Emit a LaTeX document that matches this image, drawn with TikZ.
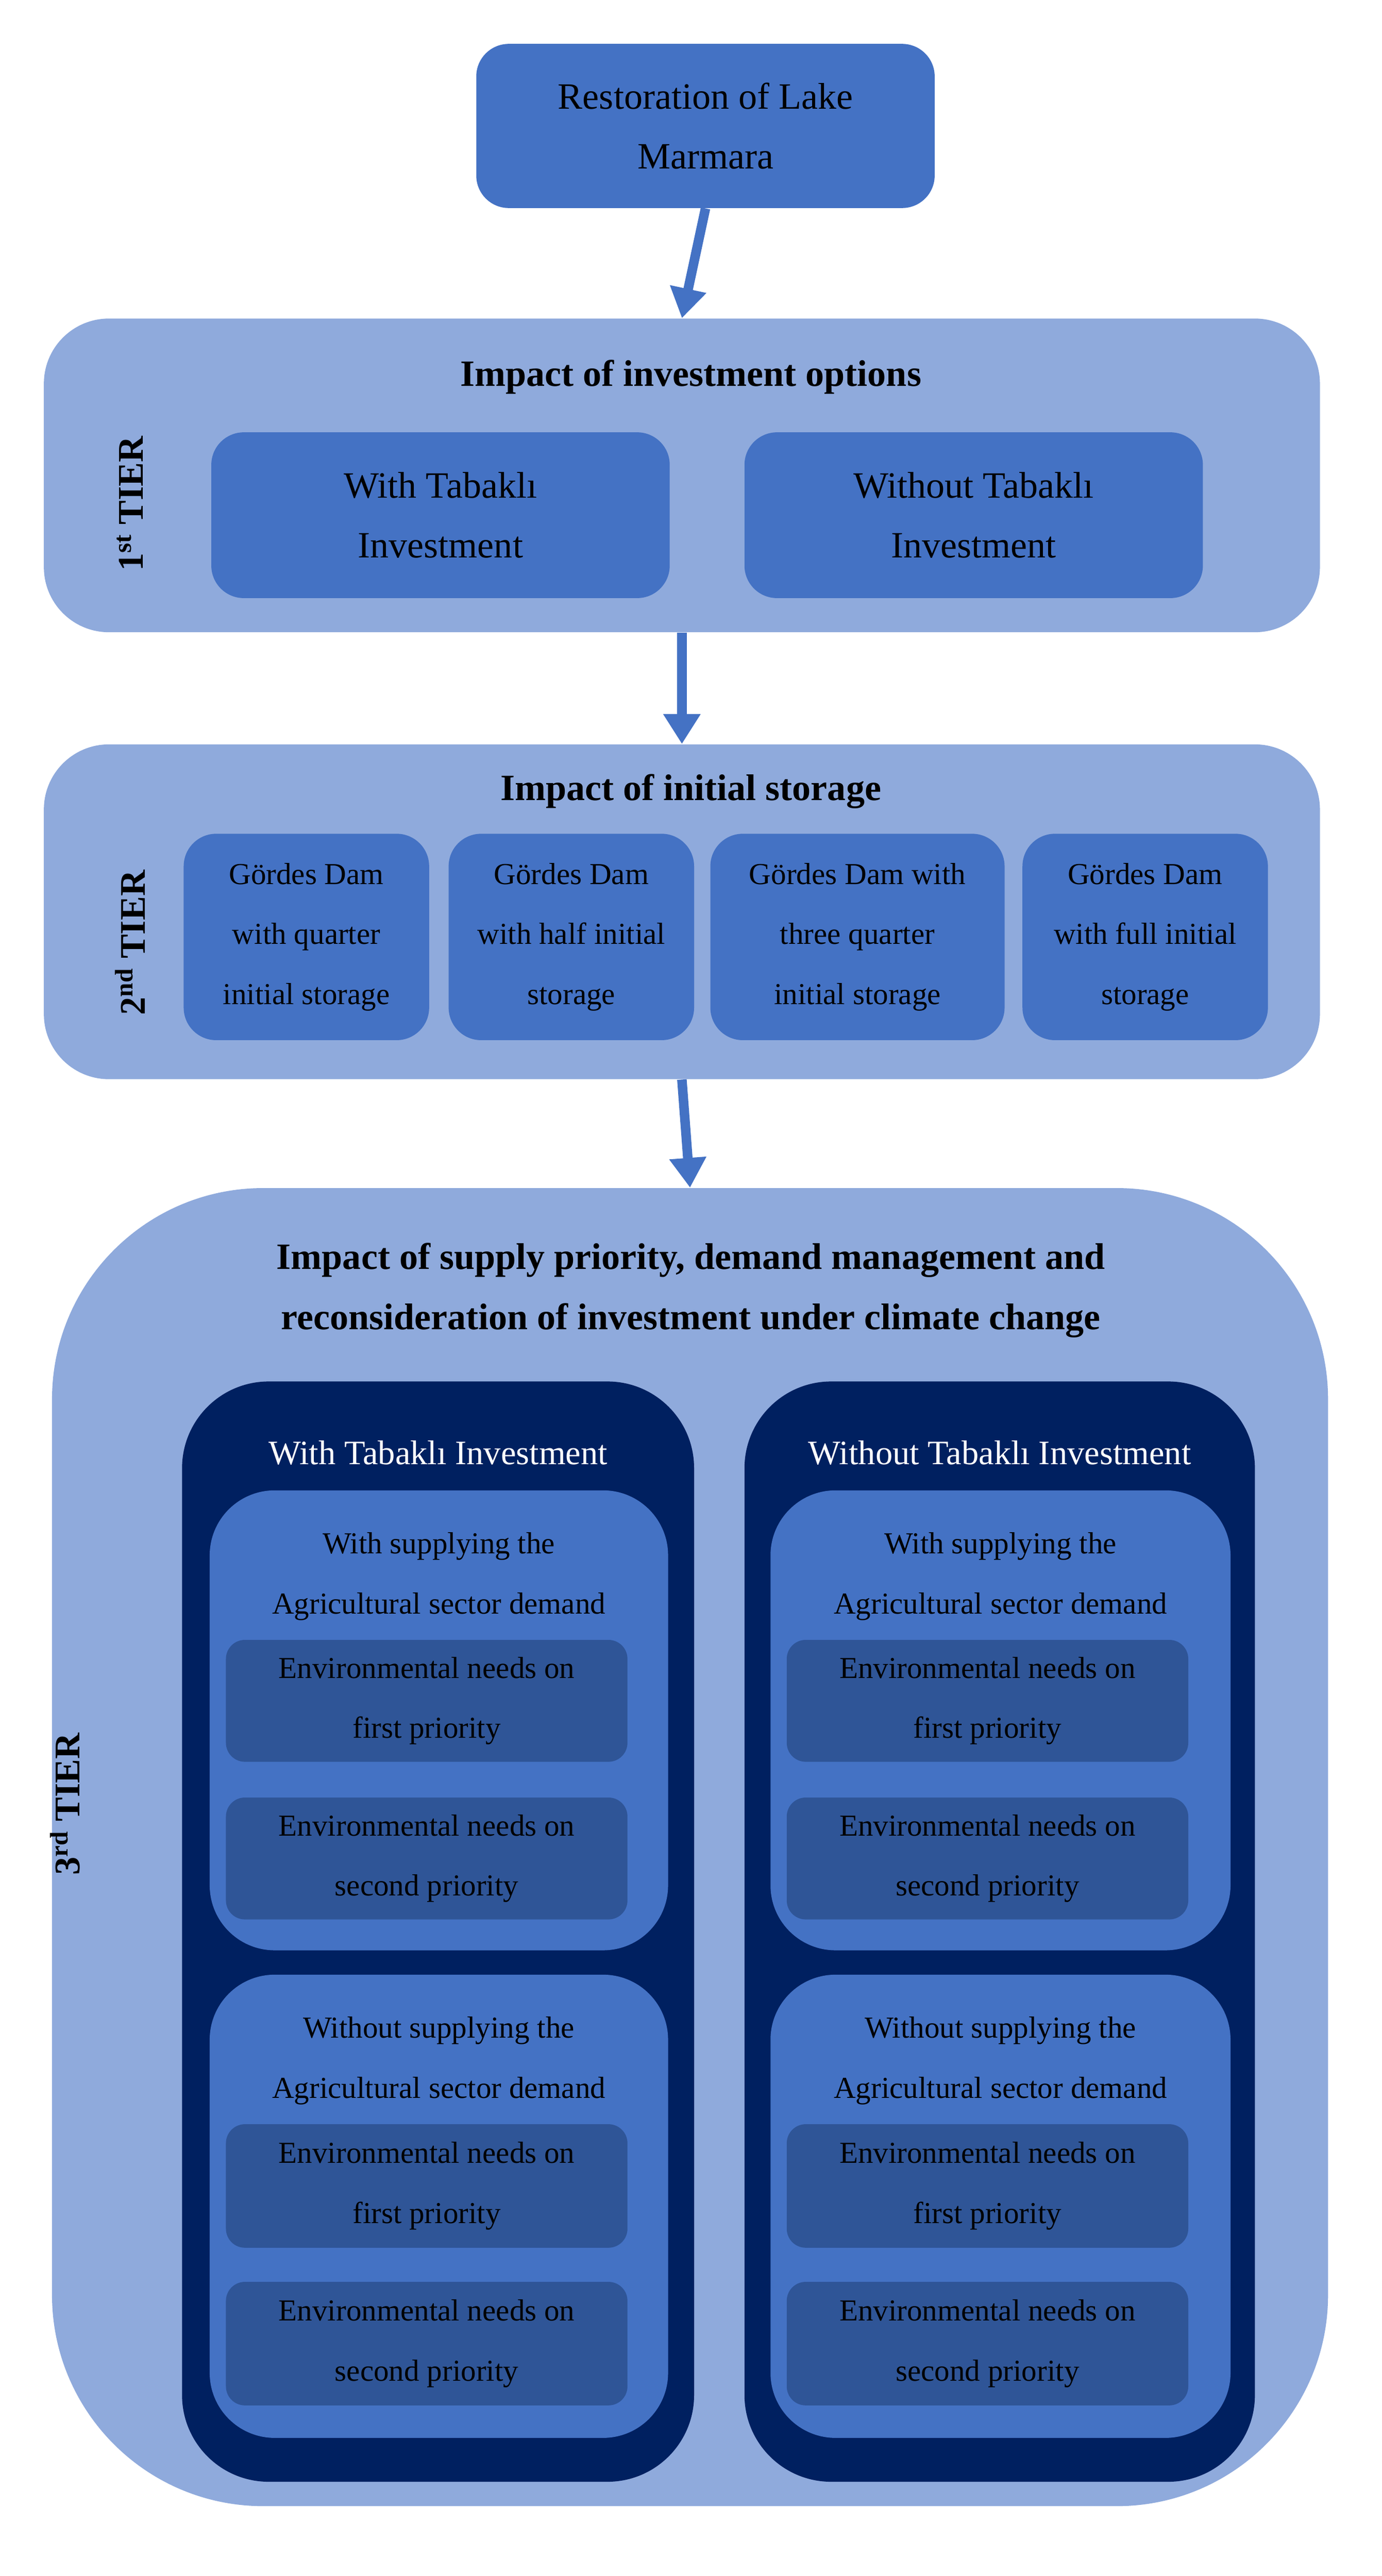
\documentclass[tikz,border=0pt]{standalone}
\usepackage{fontspec}
\setmainfont{Liberation Serif}
\usetikzlibrary{arrows.meta}
\definecolor{lightb}{HTML}{8FAADC}
\definecolor{midb}{HTML}{4472C4}
\definecolor{navy}{HTML}{002060}
\definecolor{innb}{HTML}{2F5597}
\newcommand\bx[7]{\node[#6,inner sep=0pt,minimum width={(#4-#2)*0.03cm},minimum height={(#5-#3)*0.03cm}] (#1) at ({(#2+#4)/2},{(#3+#5)/2}) {#7};}
\tikzset{
 big/.style={font=\fontsize{19.5}{31.5}\selectfont,align=center},
 sm/.style={font=\fontsize{16}{31.5}\selectfont,align=center},
 ttl/.style={font=\bfseries\fontsize{19.5}{31.5}\selectfont,align=center},
 tier/.style={font=\bfseries\fontsize{19}{22}\selectfont,rotate=90},
 panel/.style={fill=lightb,draw=none,rounded corners=1.2cm},
 mbox/.style={fill=midb,draw=none,rounded corners=0.6cm},
 nbox/.style={fill=navy,draw=none,rounded corners=1.6cm},
 cbox/.style={fill=midb,draw=none,rounded corners=1.2cm},
 ibox/.style={fill=innb,draw=none,rounded corners=0.35cm},
 arr/.style={draw=midb,line width=5pt,-{Triangle[length=0.55cm,width=0.65cm]},shorten >=0pt}
}
\begin{document}
\begin{tikzpicture}[x=0.03cm,y=-0.03cm]
\useasboundingbox (0,0) rectangle (850,1585);
\bx{top}{293}{27}{575}{128}{mbox,big}{Restoration of Lake\\Marmara}
% tier 1
\bx{t1}{27}{196}{812}{389}{panel}{}
\node[ttl] (t1t) at (425,232) {Impact of investment options};
\node[tier] (t1l) at (80,310) {1\textsuperscript{st} TIER};
\bx{a1}{130}{266}{412}{368}{mbox,big}{With Tabaklı\\Investment}
\bx{a2}{458}{266}{740}{368}{mbox,big}{Without Tabaklı\\Investment}
% tier 2
\bx{t2}{27}{458}{812}{664}{panel}{}
\node[ttl] (t2t) at (425,487) {Impact of initial storage};
\node[tier] (t2l) at (80,580) {2\textsuperscript{nd} TIER};
\bx{b1}{113}{513}{264}{640}{mbox,sm}{Gördes Dam\\with quarter\\initial storage}
\bx{b2}{276}{513}{427}{640}{mbox,sm}{Gördes Dam\\with half initial\\storage}
\bx{b3}{437}{513}{618}{640}{mbox,sm}{Gördes Dam with\\three quarter\\initial storage}
\bx{b4}{629}{513}{780}{640}{mbox,sm}{Gördes Dam\\with full initial\\storage}
% tier 3
\bx{t3}{32}{731}{817}{1542}{fill=lightb,rounded corners=3.9cm}{}
\node[ttl] (t3t) at (425,794) {Impact of supply priority, demand management and\\reconsideration of investment under climate change};
\node[tier] (t3l) at (40,1110) {3\textsuperscript{rd} TIER};
\foreach \p/\xa/\xb/\ma/\mb/\ia/\ib/\lab in {L/112/427/129/411/139/386/With, R/458/772/474/757/484/731/Without}{
 \bx{n\p}{\xa}{850}{\xb}{1527}{nbox}{}
 \node[sm,text=white,font=\fontsize{18}{31.5}\selectfont] (n\p t) at ({(\xa+\xb)/2},894) {\lab\ Tabaklı Investment};
 \bx{c\p1}{\ma}{917}{\mb}{1200}{cbox}{}
 \node[sm] (c\p1t) at ({(\ma+\mb)/2},970) {With supplying the\\Agricultural sector demand};
 \bx{i\p1}{\ia}{1009}{\ib}{1084}{ibox,sm}{Environmental needs on\\first priority}
 \bx{i\p2}{\ia}{1106}{\ib}{1181}{ibox,sm}{Environmental needs on\\second priority}
 \bx{c\p2}{\ma}{1215}{\mb}{1500}{cbox}{}
 \node[sm] (c\p2t) at ({(\ma+\mb)/2},1268) {Without supplying the\\Agricultural sector demand};
 \bx{i\p3}{\ia}{1307}{\ib}{1383}{ibox,sm}{Environmental needs on\\first priority}
 \bx{i\p4}{\ia}{1404}{\ib}{1480}{ibox,sm}{Environmental needs on\\second priority}
}
\draw[arr] (top.south) -- (t1.north);
\draw[arr] (t1.south) -- (t2.north);
\draw[arr] (t2.south) -- (t3.north);
\end{tikzpicture}
\end{document}
